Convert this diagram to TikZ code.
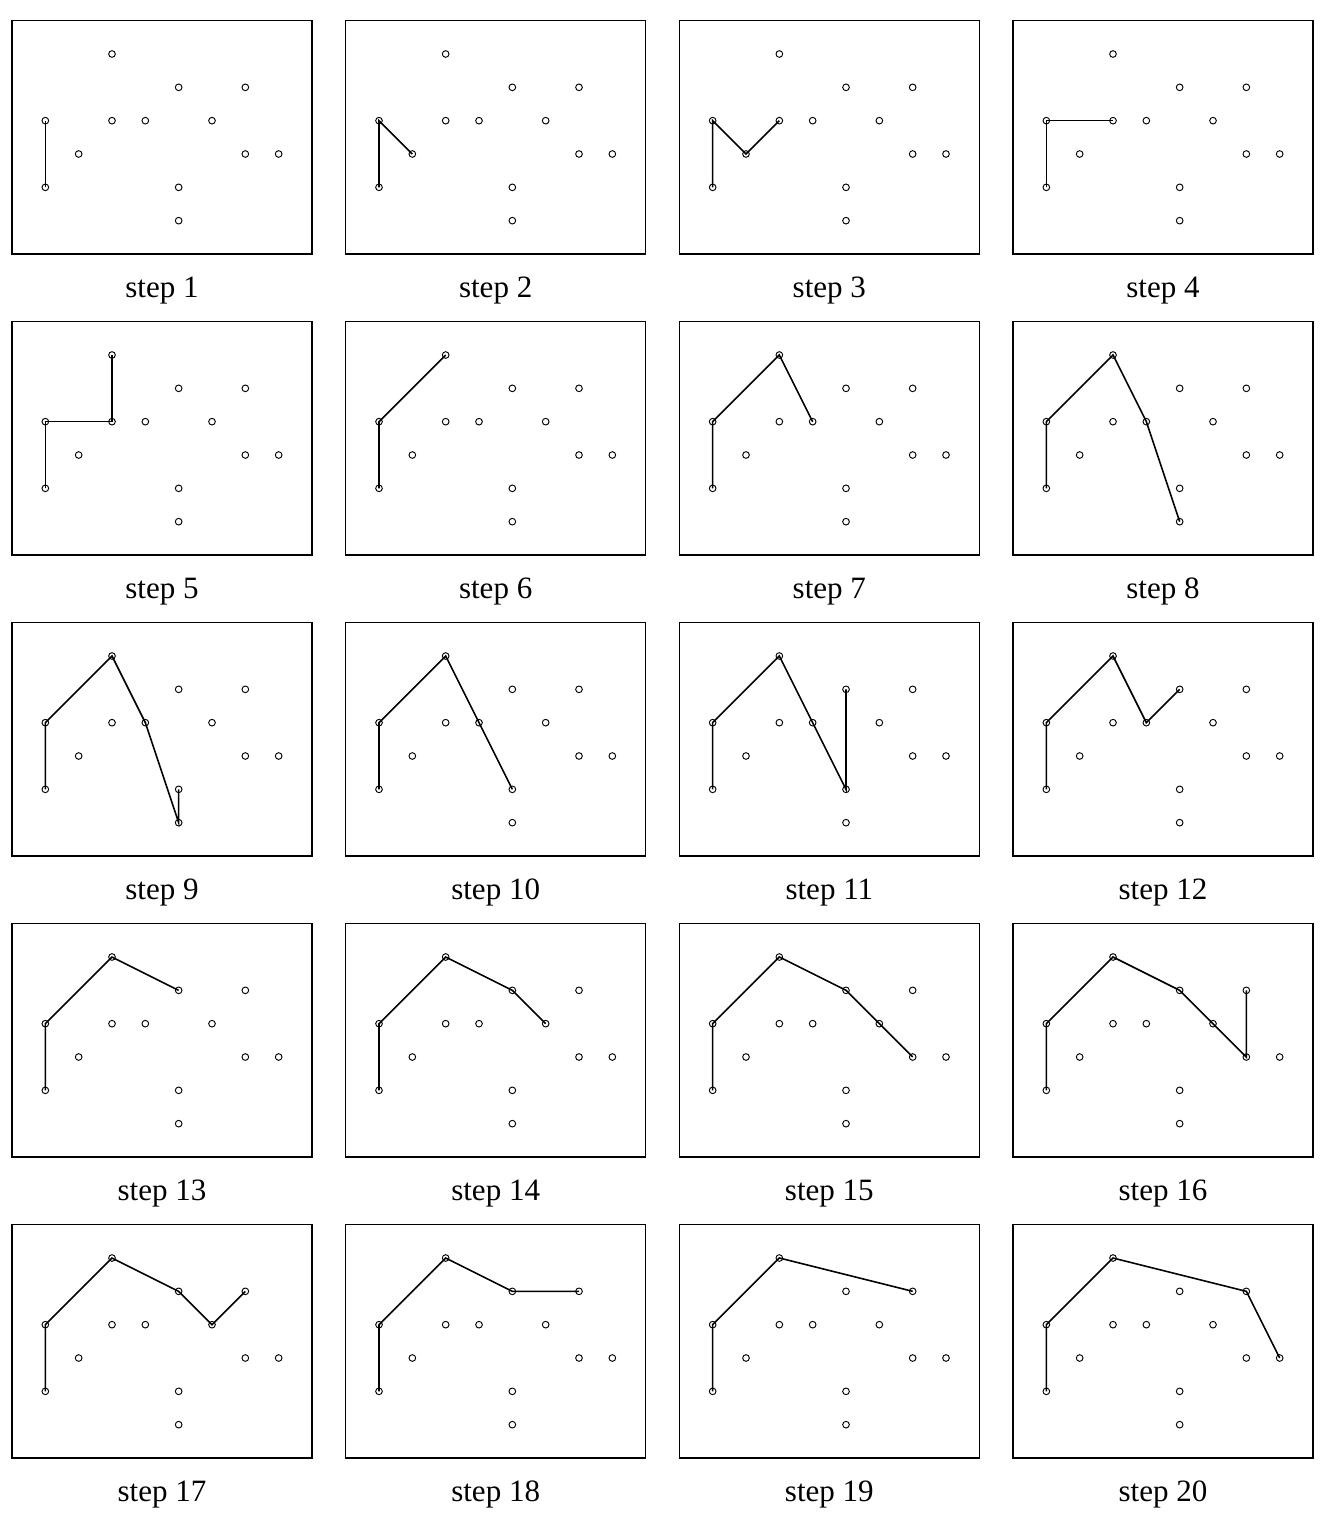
\documentclass[tikz,border=0pt]{standalone}
\usepackage{fontspec}
\setmainfont{Liberation Serif}
\usepackage{tikz}
\usetikzlibrary{positioning}

\begin{document}
\begin{tikzpicture}[
    semithick,
    site/.style={circle, draw, inner sep=0pt, minimum size=0.2cm, line width=0.8pt},
    frame/.style={draw, line width=1.05pt},
    hull/.style={line width=1.35pt},
    steplabel/.style={anchor=base, font=\fontsize{26.5}{30}\selectfont}
]
\useasboundingbox (-0.36,-37.92) rectangle (39.78,7.62);

% one panel per step: the chain always starts at B
\foreach \n/\rest in {1/{A}, 2/{A,C}, 3/{A,C,E}, 4/{A,E}, 5/{A,E,D},
    6/{A,D}, 7/{A,D,F}, 8/{A,D,F,I}, 9/{A,D,F,I,H}, 10/{A,D,F,H},
    11/{A,D,F,H,G}, 12/{A,D,F,G}, 13/{A,D,G}, 14/{A,D,G,J},
    15/{A,D,G,J,L}, 16/{A,D,G,J,L,K}, 17/{A,D,G,J,K}, 18/{A,D,G,K},
    19/{A,D,K}, 20/{A,D,K,M}} {
    \pgfmathtruncatemacro{\col}{mod(\n-1,4)}
    \pgfmathtruncatemacro{\row}{div(\n-1,4)}
    \begin{scope}[xshift=10.01*\col cm, yshift=-9.03*\row cm]
        \draw[frame] (0,0) rectangle (9,7);
        \node[steplabel] (lab-\n) at (4.5,-1.3) {step \n};

        \foreach \nm/\px/\py in {A/1/4, B/1/2, C/2/3, D/3/6, E/3/4, F/4/4,
            G/5/5, H/5/2, I/5/1, J/6/4, K/7/5, L/7/3, M/8/3}
            \node[site] (\n-\nm) at (\px,\py) {};

        \draw[hull] (\n-B.center) \foreach \q in \rest {-- (\n-\q.center)};
    \end{scope}
}

\end{tikzpicture}
\end{document}
